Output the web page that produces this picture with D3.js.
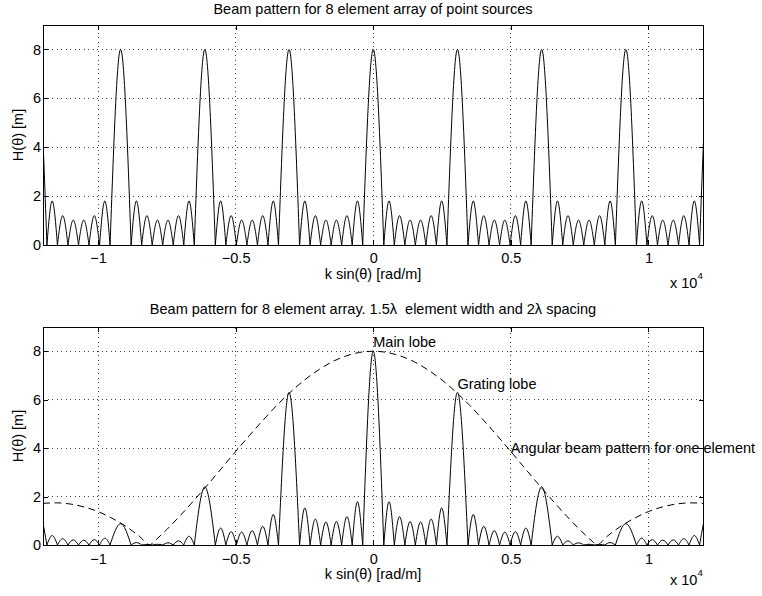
<!DOCTYPE html>
<html>
<head>
<meta charset="utf-8">
<script src="https://cdn.jsdelivr.net/npm/d3@7"></script>
<style>
  body { margin: 0; background: #fff; }
  text { font-family: "Liberation Sans", Arial, Helvetica, sans-serif; white-space: pre; }
</style>
</head>
<body>
<svg id="chart" width="762" height="596"></svg>
<script>
// ---------------- data ----------------
const xTicks = [-10000, -5000, 0, 5000, 10000];
const xTickLabels = ["\u22121", "\u22120.5", "0", "0.5", "1"];
const yTicks = [0, 2, 4, 6, 8];

// zero crossings (nulls) of the beam pattern, k sin(theta) [rad/m]
const nullK = [
  -12623, -11858, -11475, -11093, -10710, -10328, -9945, -9563,
  -8798, -8415, -8033, -7650, -7268, -6885, -6503,
  -5738, -5355, -4973, -4590, -4208, -3825, -3443,
  -2678, -2295, -1913, -1530, -1148, -765, -383,
  383, 765, 1148, 1530, 1913, 2295, 2678,
  3443, 3825, 4208, 4590, 4973, 5355, 5738,
  6503, 6885, 7268, 7650, 8033, 8415, 8798,
  9563, 9945, 10328, 10710, 11093, 11475, 11858, 12623
];
// lobe peak positions (lobe i lies between nullK[i] and nullK[i+1])
const peakK = [
  -12240, -11666, -11284, -10901, -10519, -10136, -9754,
  -9180, -8606, -8224, -7841, -7459, -7076, -6694,
  -6120, -5546, -5164, -4781, -4399, -4016, -3634,
  -3060, -2486, -2104, -1721, -1339, -956, -574,
  0, 574, 956, 1339, 1721, 2104, 2486,
  3060, 3634, 4016, 4399, 4781, 5164, 5546,
  6120, 6694, 7076, 7459, 7841, 8224, 8606,
  9180, 9754, 10136, 10519, 10901, 11284, 11666,
  12240
];
// top panel: 8 element array of point sources
const topPeakH = [
  8, 1.8, 1.2, 1.02, 1.02, 1.2, 1.8,
  8, 1.8, 1.2, 1.02, 1.02, 1.2, 1.8,
  8, 1.8, 1.2, 1.02, 1.02, 1.2, 1.8,
  8, 1.8, 1.2, 1.02, 1.02, 1.2, 1.8,
  8, 1.8, 1.2, 1.02, 1.02, 1.2, 1.8,
  8, 1.8, 1.2, 1.02, 1.02, 1.2, 1.8,
  8, 1.8, 1.2, 1.02, 1.02, 1.2, 1.8,
  8, 1.8, 1.2, 1.02, 1.02, 1.2, 1.8,
  8
];
// bottom panel: 1.5 lambda element width, 2 lambda spacing
const bottomPeakH = [
  1.69, 0.39, 0.26, 0.21, 0.20, 0.22, 0.28,
  0.88, 0.10, 0.02, 0.03, 0.09, 0.17, 0.36,
  2.4, 0.70, 0.55, 0.53, 0.59, 0.77, 1.26,
  6.3, 1.53, 1.07, 0.95, 0.97, 1.17, 1.79,
  8, 1.79, 1.17, 0.97, 0.95, 1.07, 1.53,
  6.3, 1.26, 0.77, 0.59, 0.53, 0.55, 0.70,
  2.4, 0.36, 0.17, 0.09, 0.03, 0.02, 0.10,
  0.88, 0.28, 0.22, 0.20, 0.21, 0.26, 0.39,
  1.69
];
// dashed envelope: angular beam pattern for one element
const envK = [
  -12000, -11500, -11000, -10500, -10000, -9500, -9000, -8500, -8110, -8000,
  -7500, -7000, -6500, -6000, -5500, -5000, -4500, -4000, -3500, -3000,
  -2500, -2000, -1500, -1000, -500, 0, 500, 1000, 1500, 2000, 2500,
  3000, 3500, 4000, 4500, 5000, 5500, 6000, 6500, 7000, 7500,
  8000, 8110, 8500, 9000, 9500, 10000, 10500, 11000, 11500, 12000
];
const envH = [
  1.72, 1.74, 1.69, 1.57, 1.38, 1.11, 0.78, 0.36, 0, 0.11,
  0.64, 1.23, 1.86, 2.51, 3.18, 3.86, 4.52, 5.16, 5.77, 6.32,
  6.81, 7.22, 7.56, 7.80, 7.95, 8, 7.95, 7.80, 7.56, 7.22, 6.81,
  6.32, 5.77, 5.16, 4.52, 3.86, 3.18, 2.51, 1.86, 1.23, 0.64,
  0.11, 0, 0.36, 0.78, 1.11, 1.38, 1.57, 1.69, 1.74, 1.72
];
const titles = [
  "Beam pattern for 8 element array of point sources",
  "Beam pattern for 8 element array. 1.5\u03bb  element width and 2\u03bb spacing"
];
const xLabel = "k sin(\u03b8) [rad/m]";
const yLabel = "H(\u03b8) [m]";
const annText = ["Main lobe", "Grating lobe", "Angular beam pattern for one element"];
const annK = [0, 3060, 5000];
const annH = [8.4, 6.65, 4.0];

// ---------------- drawing ----------------
const W = 762, H = 596;
const FS = 14.5;
const svg = d3.select("#chart");
svg.append("rect").attr("width", W).attr("height", H).attr("fill", "#fff");

const x = d3.scaleLinear().domain([-12000, 12000]).range([43, 703.5]);

const panels = [
  { top: 25, bottom: 245, peaks: topPeakH, title: titles[0], titleY: 14, pad: 8, xlY: 279, expY: 288, env: false },
  { top: 327, bottom: 545, peaks: bottomPeakH, title: titles[1], titleY: 314, pad: 9, xlY: 579, expY: 585, env: true }
];

panels.forEach((p, pi) => {
  const y = d3.scaleLinear().domain([0, 9]).range([p.bottom, p.top]);
  const g = svg.append("g");
  const clipId = "clip" + pi;
  svg.append("clipPath").attr("id", clipId)
    .append("rect")
    .attr("x", x.range()[0]).attr("y", p.top)
    .attr("width", x.range()[1] - x.range()[0]).attr("height", p.bottom - p.top);

  // grid
  const grid = g.append("g").attr("stroke", "#444").attr("stroke-width", 1)
    .attr("stroke-dasharray", "1,3.5").attr("shape-rendering", "crispEdges");
  grid.selectAll("line.gx").data(xTicks).join("line")
    .attr("x1", d => x(d)).attr("x2", d => x(d))
    .attr("y1", p.bottom).attr("y2", p.top);
  grid.selectAll("line.gy").data(yTicks.filter(d => d > 0)).join("line")
    .attr("x1", x.range()[0]).attr("x2", x.range()[1])
    .attr("y1", d => y(d)).attr("y2", d => y(d));

  // lobes
  const line = d3.line().x(d => x(d[0])).y(d => y(d[1])).curve(d3.curveNatural);
  const lobes = peakK.map((k, i) => [[nullK[i], 0], [k, p.peaks[i]], [nullK[i + 1], 0]]);
  g.append("g").attr("clip-path", `url(#${clipId})`)
    .selectAll("path").data(lobes).join("path")
    .attr("d", line)
    .attr("fill", "none").attr("stroke", "#000").attr("stroke-width", 1);

  if (p.env) {
    const envLine = d3.line().x(d => x(d[0])).y(d => y(d[1])).curve(d3.curveMonotoneX);
    g.append("path").attr("clip-path", `url(#${clipId})`)
      .attr("d", envLine(envK.map((k, i) => [k, envH[i]])))
      .attr("fill", "none").attr("stroke", "#000").attr("stroke-width", 1)
      .attr("stroke-dasharray", "7,4.5");

    g.selectAll("text.ann").data(annText).join("text")
      .attr("x", (d, i) => x(annK[i]))
      .attr("y", (d, i) => y(annH[i]))
      .attr("dominant-baseline", "central")
      .attr("font-size", FS).attr("fill", "#000")
      .text(d => d);
  }

  // axes (ticks inward)
  const styleAxis = sel => {
    sel.select(".domain").remove();
    sel.selectAll("text").attr("font-size", FS).attr("fill", "#000")
      .attr("font-family", "Liberation Sans, Arial, Helvetica, sans-serif");
    sel.selectAll("line").attr("stroke", "#000").attr("shape-rendering", "crispEdges");
  };
  g.append("g").attr("transform", `translate(0,${p.bottom})`)
    .call(d3.axisBottom(x).tickValues(xTicks).tickFormat((d, i) => xTickLabels[i])
      .tickSizeInner(-5).tickSizeOuter(0).tickPadding(p.pad))
    .call(styleAxis);
  g.append("g").attr("transform", `translate(0,${p.top})`)
    .call(d3.axisTop(x).tickValues(xTicks).tickFormat("").tickSizeInner(-5).tickSizeOuter(0))
    .call(styleAxis);
  g.append("g").attr("transform", `translate(${x.range()[0]},0)`)
    .call(d3.axisLeft(y).tickValues(yTicks).tickSizeInner(-5).tickSizeOuter(0).tickPadding(2))
    .call(styleAxis);
  g.append("g").attr("transform", `translate(${x.range()[1]},0)`)
    .call(d3.axisRight(y).tickValues(yTicks).tickFormat("").tickSizeInner(-5).tickSizeOuter(0))
    .call(styleAxis);

  // box
  g.append("rect")
    .attr("x", x.range()[0]).attr("y", p.top)
    .attr("width", x.range()[1] - x.range()[0]).attr("height", p.bottom - p.top)
    .attr("fill", "none").attr("stroke", "#000").attr("stroke-width", 1)
    .attr("shape-rendering", "crispEdges");

  // title
  svg.append("text").attr("x", 373).attr("y", p.titleY)
    .attr("text-anchor", "middle").attr("font-size", FS).attr("fill", "#000")
    .text(p.title);
  // x label
  svg.append("text").attr("x", 373).attr("y", p.xlY)
    .attr("text-anchor", "middle").attr("font-size", FS).attr("fill", "#000")
    .text(xLabel);
  // y label
  svg.append("text")
    .attr("transform", `translate(23,${(p.top + p.bottom) / 2}) rotate(-90)`)
    .attr("text-anchor", "middle").attr("font-size", FS).attr("fill", "#000")
    .text(yLabel);
  // exponent
  const ex = svg.append("text").attr("x", 670).attr("y", p.expY)
    .attr("font-size", FS).attr("fill", "#000");
  ex.append("tspan").text("x 10");
  ex.append("tspan").attr("font-size", 9.5).attr("dy", -9).text("4");
});
</script>
</body>
</html>
